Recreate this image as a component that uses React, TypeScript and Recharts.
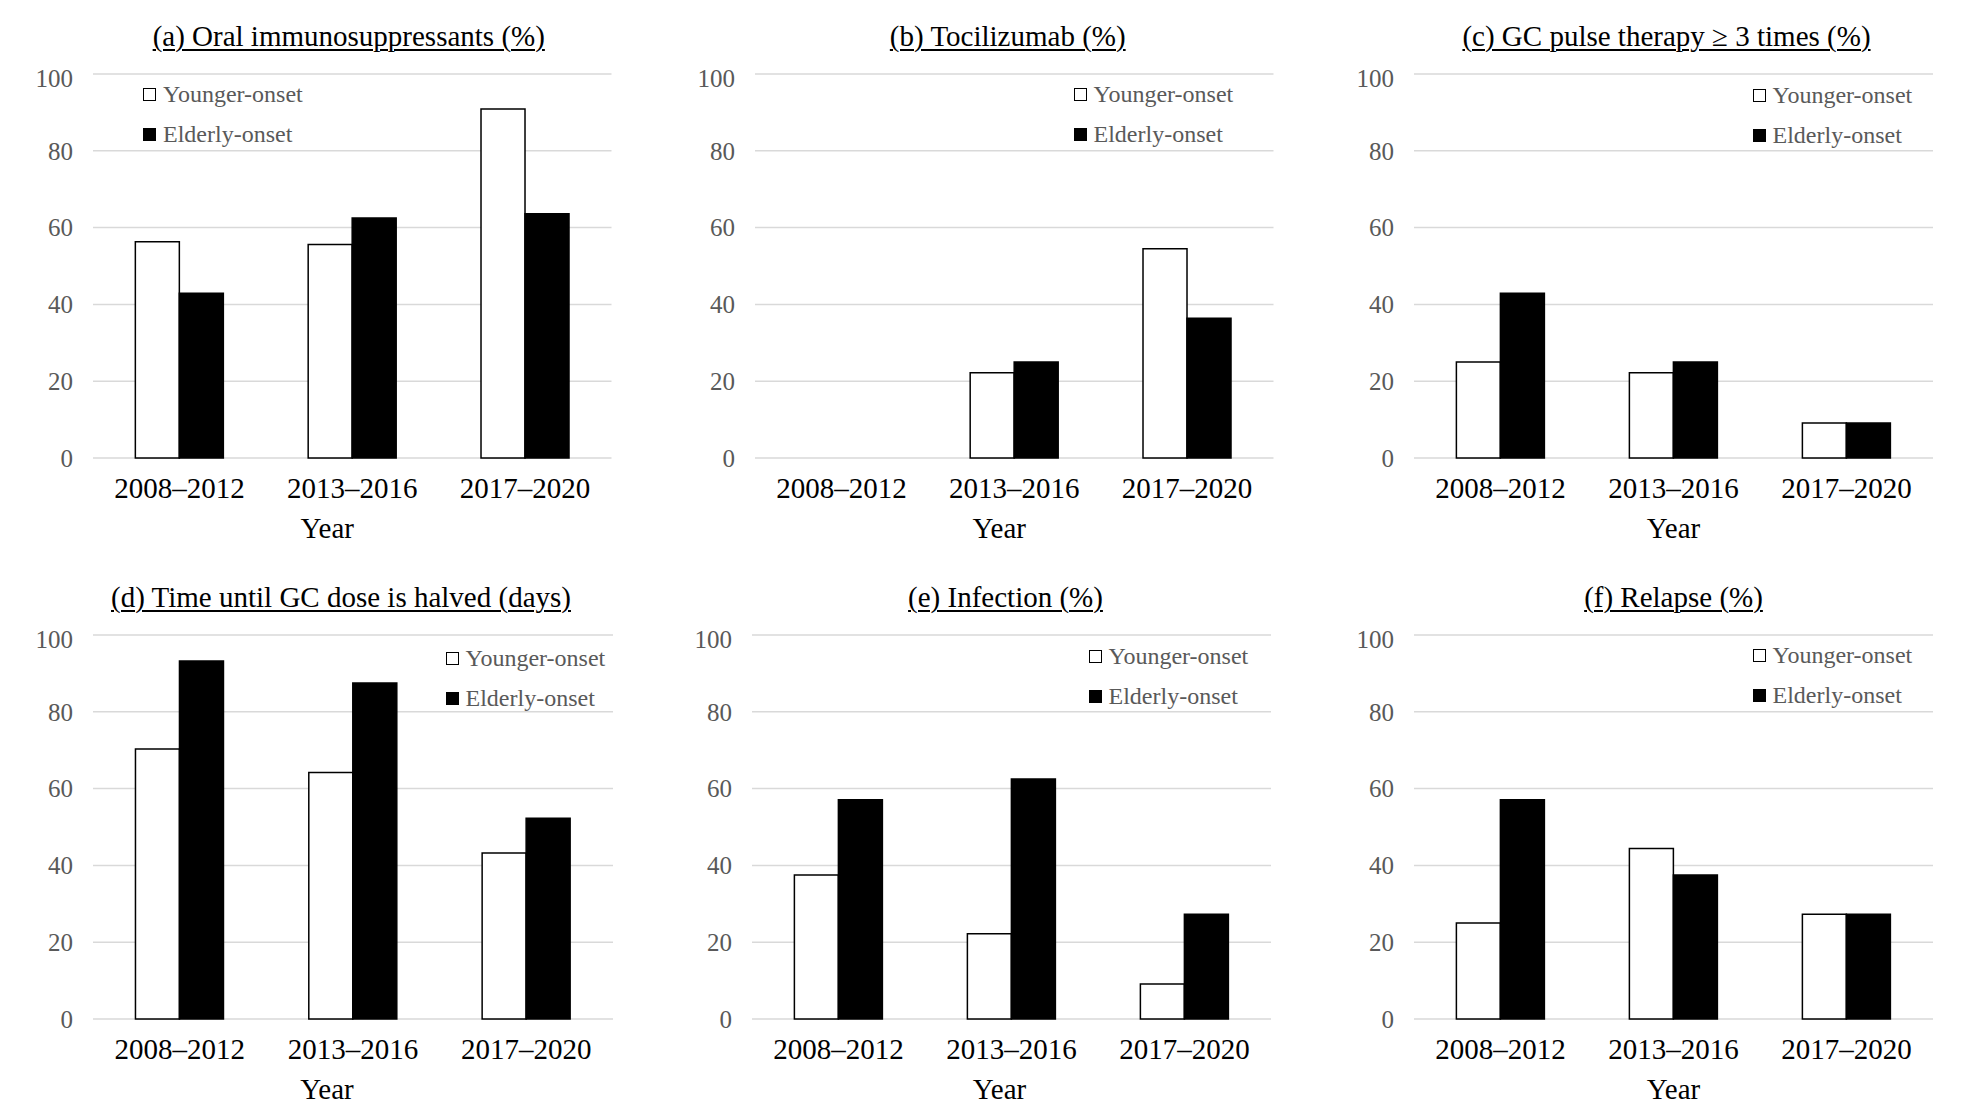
import { BarChart, Bar, XAxis, YAxis, CartesianGrid, Legend } from 'recharts';

const periods = ['2008–2012', '2013–2016', '2017–2020'];
const yTicks = [0, 20, 40, 60, 80, 100];
const seriesNames = ['Younger-onset', 'Elderly-onset'];

const youngerOral = [56.3, 55.6, 90.9];
const elderlyOral = [42.9, 62.5, 63.6];
const youngerToci = [0, 22.2, 54.5];
const elderlyToci = [0, 25.0, 36.4];
const youngerPulse = [25.0, 22.2, 9.1];
const elderlyPulse = [42.9, 25.0, 9.1];
const youngerHalved = [70.3, 64.2, 43.2];
const elderlyHalved = [93.2, 87.5, 52.3];
const youngerInfection = [37.5, 22.2, 9.1];
const elderlyInfection = [57.1, 62.5, 27.3];
const youngerRelapse = [25.0, 44.4, 27.3];
const elderlyRelapse = [57.1, 37.5, 27.3];

const FONT = '"Liberation Serif", "Times New Roman", serif';
const GREY = '#595959';
const Y_AXIS_W = 60;
const TOP_PAD = 10;
const PLOT_H = 384;
const X_AXIS_H = 90;

const panels = [
  { title: '(a) Oral immunosuppressants (%)', younger: youngerOral, elderly: elderlyOral,
    left: 92.5, top: 74, width: 518.5, titleDx: -3, yearDx: -25, legX: 50.5, legY: 20.5 },
  { title: '(b) Tocilizumab (%)', younger: youngerToci, elderly: elderlyToci,
    left: 754.5, top: 74, width: 518.5, titleDx: -6, yearDx: -15, legX: 319, legY: 20 },
  { title: '(c) GC pulse therapy ≥ 3 times (%)', younger: youngerPulse, elderly: elderlyPulse,
    left: 1414, top: 74, width: 519, titleDx: -7, yearDx: 0, legX: 338.5, legY: 21.5 },
  { title: '(d) Time until GC dose is halved (days)', younger: youngerHalved, elderly: elderlyHalved,
    left: 93, top: 635, width: 520, titleDx: -12, yearDx: -26, legX: 352.5, legY: 23 },
  { title: '(e) Infection (%)', younger: youngerInfection, elderly: elderlyInfection,
    left: 752, top: 635, width: 519, titleDx: -6, yearDx: -12, legX: 336.5, legY: 21 },
  { title: '(f) Relapse (%)', younger: youngerRelapse, elderly: elderlyRelapse,
    left: 1414, top: 635, width: 519, titleDx: 0, yearDx: 0, legX: 338.5, legY: 20.5 },
];

function LegendBox() {
  return (
    <div style={{ fontFamily: FONT, fontSize: 24, color: GREY }}>
      {seriesNames.map((name, i) => (
        <div key={name} style={{ display: 'flex', alignItems: 'center', height: 40 }}>
          <span
            style={{
              display: 'inline-block',
              width: 11,
              height: 11,
              border: '1.5px solid #000',
              background: i === 0 ? '#fff' : '#000',
              marginRight: 7,
            }}
          />
          <span style={{ whiteSpace: 'nowrap' }}>{name}</span>
        </div>
      ))}
    </div>
  );
}

function Panel({ p }: { p: (typeof panels)[number] }) {
  const data = periods.map((period, i) => ({
    period,
    younger: p.younger[i],
    elderly: p.elderly[i],
  }));
  const chartW = Y_AXIS_W + p.width + 10;
  const chartH = TOP_PAD + PLOT_H + X_AXIS_H;

  return (
    <>
      <div
        style={{
          position: 'absolute',
          left: p.left + p.titleDx - 300,
          top: p.top - 38 - 17,
          width: p.width + 600,
          textAlign: 'center',
          fontFamily: FONT,
          fontSize: 29,
          lineHeight: '34px',
          color: '#000',
        }}
      >
        <span
          style={{
            textDecoration: 'underline',
            textUnderlineOffset: 3,
            textDecorationThickness: 1.5,
          }}
        >
          {p.title}
        </span>
      </div>
      <div style={{ position: 'absolute', left: p.left - Y_AXIS_W, top: p.top - TOP_PAD }}>
        <BarChart
          width={chartW}
          height={chartH}
          data={data}
          margin={{ top: TOP_PAD, right: 10, bottom: 0, left: 0 }}
          barCategoryGap="24.5%"
          barGap={0}
          style={{ fontFamily: FONT }}
        >
          <CartesianGrid vertical={false} stroke="#d9d9d9" strokeWidth={1.5} />
          <XAxis
            dataKey="period"
            axisLine={false}
            tickLine={false}
            tickSize={0}
            tickMargin={19}
            height={X_AXIS_H}
            tick={{ fontFamily: FONT, fontSize: 29, fill: '#000' }}
            label={{
              value: 'Year',
              position: 'insideBottom',
              offset: 10,
              dx: p.yearDx,
              style: { fontFamily: FONT, fontSize: 29, fill: '#000' },
            }}
          />
          <YAxis
            domain={[0, 100]}
            ticks={yTicks}
            axisLine={false}
            tickLine={false}
            tickSize={0}
            tickMargin={20}
            width={Y_AXIS_W}
            tick={{ fontFamily: FONT, fontSize: 25, fill: GREY }}
          />
          <Legend
            layout="vertical"
            align="center"
            verticalAlign="middle"
            content={() => <LegendBox />}
            wrapperStyle={{ left: Y_AXIS_W + p.legX, top: TOP_PAD + p.legY - 20, width: 'auto' }}
          />
          <Bar
            dataKey="younger"
            name={seriesNames[0]}
            fill="#fff"
            stroke="#000"
            strokeWidth={1.5}
            isAnimationActive={false}
          />
          <Bar
            dataKey="elderly"
            name={seriesNames[1]}
            fill="#000"
            stroke="#000"
            strokeWidth={1.5}
            isAnimationActive={false}
          />
        </BarChart>
      </div>
    </>
  );
}

export default function App() {
  return (
    <div
      style={{
        position: 'absolute',
        left: 0,
        top: 0,
        width: 1986,
        height: 1116,
        background: '#fff',
        overflow: 'hidden',
      }}
    >
      {panels.map((p) => (
        <Panel key={p.title} p={p} />
      ))}
    </div>
  );
}
